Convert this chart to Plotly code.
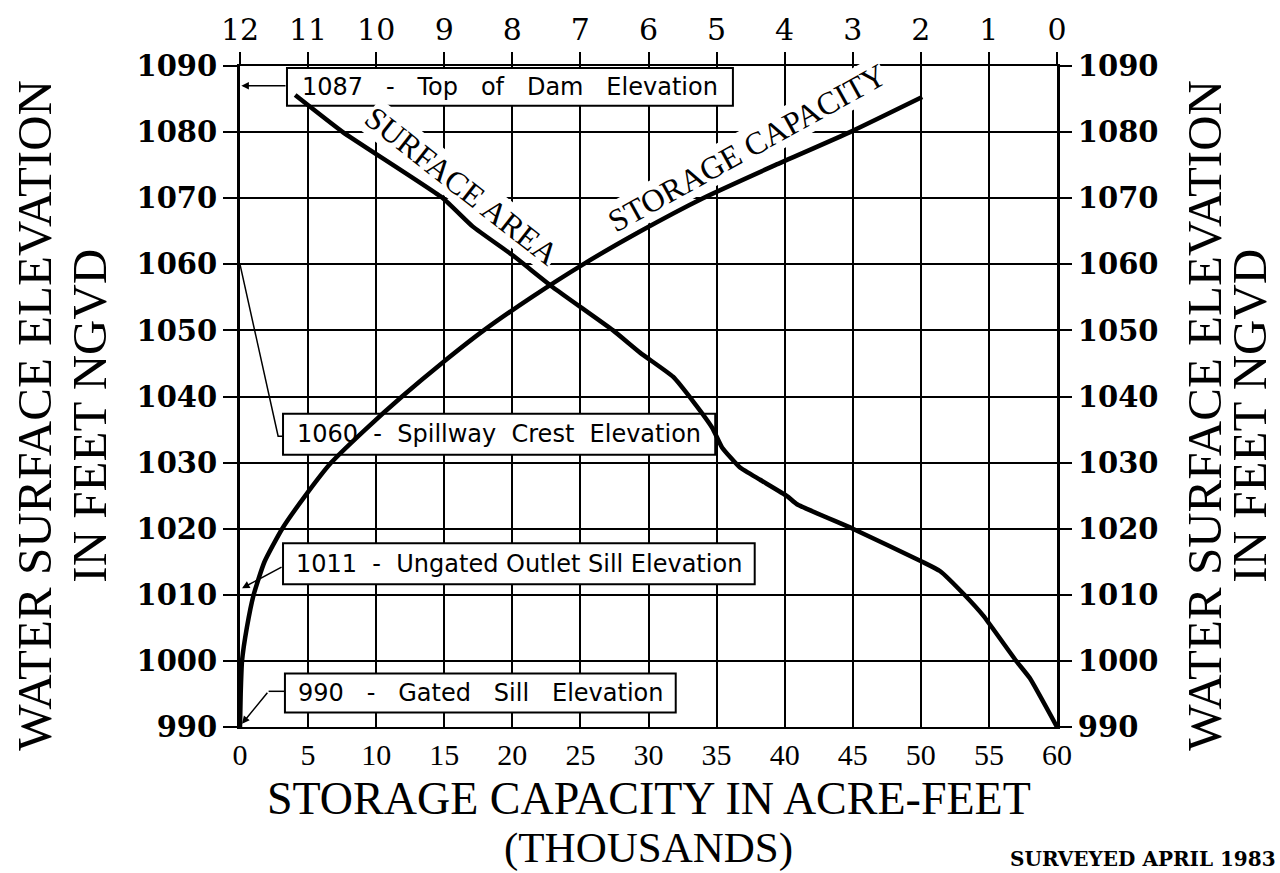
import plotly.graph_objects as go

# Storage capacity curve: elevation (ft NGVD) vs storage (thousands of acre-feet)
storage_elev = [990, 995, 1000, 1005, 1010, 1015, 1020, 1025, 1030, 1035,
                1040, 1045, 1050, 1055, 1060, 1065, 1070, 1075, 1080, 1085.3]
storage_kaf = [0, 0.05, 0.15, 0.5, 1.0, 1.8, 3.1, 4.8, 6.7, 9.2,
               11.9, 14.8, 17.9, 21.4, 25.2, 29.4, 34.0, 39.3, 44.8, 50.1]

# Surface area curve: elevation vs surface area (top scale, 0-12)
area_elev = [990, 997.4, 1000, 1006.8, 1010, 1013.6, 1015, 1020, 1023.7, 1024.9,
             1027.4, 1029.3, 1032.3, 1035.2, 1039.2, 1043, 1046.6, 1050, 1056.5,
             1061.4, 1065.7, 1070, 1080, 1085.6]
area_vals = [0, 0.40, 0.60, 1.08, 1.36, 1.72, 1.98, 3.00, 3.82, 3.96,
             4.36, 4.66, 4.92, 5.06, 5.34, 5.64, 6.12, 6.52, 7.40,
             8.00, 8.58, 9.02, 10.49, 11.19]

storage_ticks = list(range(0, 61, 5))
area_ticks = list(range(0, 13))
elev_ticks = list(range(990, 1091, 10))

# Reference elevations called out on the chart
top_of_dam = 1087
spillway_crest = 1060
ungated_sill = 1011
gated_sill = 990

SERIF = "DejaVu Serif"
TITLE_SERIF = "Liberation Serif"
BOX_FONT = "DejaVu Sans"
NB = "\u00a0"


def spaced(words, gap):
    """Join words with a fixed run of non-breaking spaces."""
    return (NB * gap).join(words)


fig = go.Figure()
fig.add_trace(go.Scatter(
    x=storage_kaf, y=storage_elev, mode="lines", xaxis="x", yaxis="y",
    line=dict(color="black", width=4.5, shape="spline", smoothing=0.5),
    showlegend=False, hoverinfo="skip"))
fig.add_trace(go.Scatter(
    x=area_vals, y=area_elev, mode="lines", xaxis="x2", yaxis="y2",
    line=dict(color="black", width=4.5, shape="spline", smoothing=0.4),
    showlegend=False, hoverinfo="skip"))

elev_font = dict(family=SERIF, size=29, color="black", weight="bold")

fig.update_layout(
    width=1280, height=873,
    margin=dict(l=240, r=223, t=48, b=146),
    paper_bgcolor="white", plot_bgcolor="white",
    xaxis=dict(range=[0, 60], tickvals=storage_ticks, showgrid=True,
               gridcolor="black", gridwidth=2, showline=True, linecolor="black",
               linewidth=2, ticks="", zeroline=False,
               tickfont=dict(family=TITLE_SERIF, size=30, color="black")),
    xaxis2=dict(range=[12, 0], tickvals=area_ticks, overlaying="x", side="top",
                showgrid=False, showline=True, linecolor="black", linewidth=2,
                ticks="outside", ticklen=12, tickwidth=2, tickcolor="black",
                zeroline=False,
                tickfont=dict(family=SERIF, size=30, color="black")),
    yaxis=dict(range=[990, 1090], tickvals=elev_ticks, showgrid=True,
               gridcolor="black", gridwidth=2, showline=True, linecolor="black",
               linewidth=3, ticks="outside", ticklen=14, tickwidth=2,
               tickcolor="black", zeroline=False, tickfont=elev_font),
    yaxis2=dict(range=[990, 1090], tickvals=elev_ticks, overlaying="y", side="right",
                showgrid=False, showline=True, linecolor="black", linewidth=3,
                ticks="outside", ticklen=12, tickwidth=2, tickcolor="black",
                zeroline=False, tickfont=elev_font),
)

# White label boxes sit over the grid but under the curves
boxes = [
    (3.45, 36.2, 1084.0, 1089.7, spaced(["1087", "-", "Top", "of", "Dam", "Elevation"], 3)),
    (3.16, 34.9, 1031.2, 1037.4, spaced(["1060", "-", "Spillway", "Crest", "Elevation"], 2)),
    (3.16, 37.8, 1011.6, 1017.8,
     spaced(["1011", "-", "Ungated"], 2) + NB + spaced(["Outlet", "Sill", "Elevation"], 1)),
    (3.30, 32.0, 992.2, 998.1, spaced(["990", "-", "Gated", "Sill", "Elevation"], 3)),
]
for x0, x1, y0, y1, label in boxes:
    fig.add_shape(type="rect", xref="x", yref="y", x0=x0, x1=x1, y0=y0, y1=y1,
                  fillcolor="white", line=dict(color="black", width=2),
                  layer="between")
    fig.add_annotation(xref="x", yref="y", x=(x0 + x1) / 2, y=(y0 + y1) / 2,
                       text=label, showarrow=False,
                       font=dict(family=BOX_FONT, size=24, color="black"))

# Leader lines from the boxes to the elevation axis
fig.add_annotation(xref="x", yref="y", axref="x", ayref="y",
                   x=0.1, y=top_of_dam, ax=3.45, ay=top_of_dam, text="",
                   showarrow=True, arrowhead=2, arrowsize=1, arrowwidth=1.5,
                   arrowcolor="black")
fig.add_shape(type="path", xref="x", yref="y",
              path=f"M 0,{spillway_crest} L 2.8,1034.0 L 3.16,1034.0",
              line=dict(color="black", width=1.5))
fig.add_annotation(xref="x", yref="y", axref="x", ayref="y",
                   x=0.15, y=ungated_sill, ax=3.16, ay=1014.3, text="",
                   showarrow=True, arrowhead=2, arrowsize=1, arrowwidth=1.5,
                   arrowcolor="black")
fig.add_shape(type="path", xref="x", yref="y",
              path="M 3.3,995.4 L 2.1,995.4",
              line=dict(color="black", width=1.5))
fig.add_annotation(xref="x", yref="y", axref="x", ayref="y",
                   x=0.15, y=gated_sill + 0.5, ax=2.1, ay=995.4, text="",
                   showarrow=True, arrowhead=2, arrowsize=1, arrowwidth=1.5,
                   arrowcolor="black")

# Curve names written along the curves
fig.add_annotation(xref="x", yref="y", x=16.3, y=1071.8, text="SURFACE AREA",
                   textangle=38, showarrow=False, bgcolor="white", borderpad=0,
                   font=dict(family=TITLE_SERIF, size=32, color="black"))
fig.add_annotation(xref="x", yref="y", x=37.2, y=1077.6, text="STORAGE CAPACITY",
                   textangle=-29, showarrow=False, bgcolor="white", borderpad=0,
                   font=dict(family=TITLE_SERIF, size=32, color="black"))

# Axis titles, one annotation per line
title_font = dict(family=TITLE_SERIF, size=49, color="black")
side_lines = [("WATER SURFACE ELEVATION", -205, 1205 - 1057),
              ("IN FEET NGVD", -150, 1250 - 1057)]
for text, left_px, right_px in side_lines:
    fig.add_annotation(xref="paper", yref="paper", x=0, y=0.471, xshift=left_px,
                       xanchor="center", yanchor="middle", textangle=-90,
                       showarrow=False, text=text, font=title_font)
    fig.add_annotation(xref="paper", yref="paper", x=1, y=0.471, xshift=right_px,
                       xanchor="center", yanchor="middle", textangle=-90,
                       showarrow=False, text=text, font=title_font)

fig.add_annotation(xref="paper", yref="paper", x=0.5, y=0, yshift=-71,
                   xanchor="center", yanchor="middle", showarrow=False,
                   text="STORAGE CAPACITY IN ACRE-FEET",
                   font=dict(family=TITLE_SERIF, size=46, color="black"))
fig.add_annotation(xref="paper", yref="paper", x=0.5, y=0, yshift=-121,
                   xanchor="center", yanchor="middle", showarrow=False,
                   text="(THOUSANDS)",
                   font=dict(family=TITLE_SERIF, size=43, color="black"))
fig.add_annotation(xref="paper", yref="paper", x=1, y=0, xshift=221, yshift=-132,
                   xanchor="right", yanchor="middle", showarrow=False,
                   text="SURVEYED APRIL 1983",
                   font=dict(family=SERIF, size=20, color="black", weight="bold"))

fig.write_html("out.html")
